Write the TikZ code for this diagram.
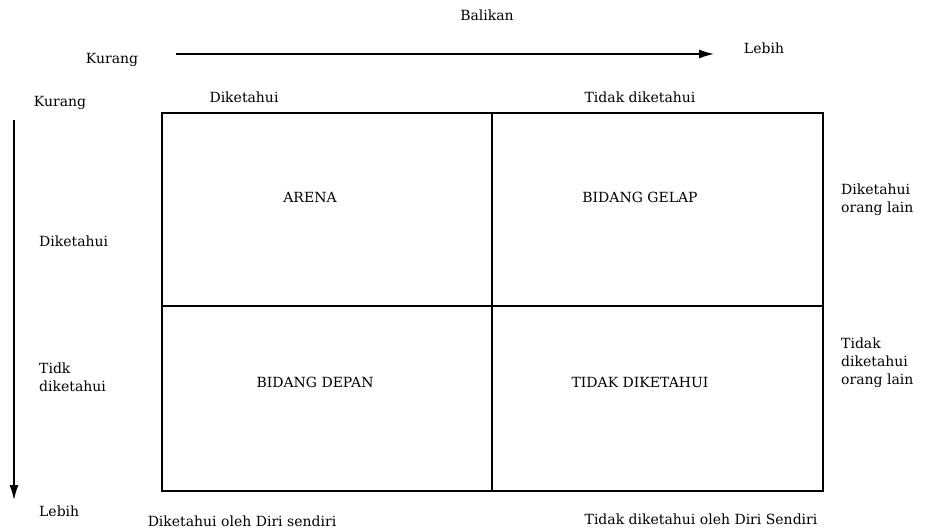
\documentclass[tikz,border=0pt]{standalone}
\usepackage{fontspec}
\setmainfont{DejaVu Serif}
\usetikzlibrary{arrows.meta}

\tikzset{
  lbl/.style={inner sep=0pt, font=\fontsize{14}{18}\selectfont},
  llbl/.style={lbl, anchor=west, align=left},
  axis/.style={line width=1.3pt, -{Latex[length=15pt,width=9pt]}},
  grid/.style={line width=1.5pt}
}

\begin{document}
\begin{tikzpicture}[x=1pt,y=-1pt]
		%%%%% START %%%%%
		\useasboundingbox (0,0) rectangle (928,532);
		
		% balikan axis
		\node[lbl] (balikan) at (487,15) {Balikan};
		\node[lbl] (kurangA) at (112,60) {Kurang};
		\node[lbl] (lebihA) at (764,48) {Lebih};
		\coordinate (hstart) at (176,54);
		\coordinate (hend) at (714,54);
		\draw[axis] (hstart) -- (hend);
		
		% vertical axis
		\node[lbl] (kurangB) at (60,103) {Kurang};
		\coordinate (vstart) at (14,120);
		\coordinate (vend) at (14,500);
		\draw[axis] (vstart) -- (vend);
		\node[llbl] (dikB) at (39,241) {Diketahui};
		\node[llbl] (tidkB) at (39,377) {Tidk\\diketahui};
		\node[llbl] (lebihB) at (39,511) {Lebih};
		
		% window
		\coordinate (nw) at (162,113);
		\coordinate (se) at (823,491);
		\draw[grid] (nw) rectangle (se);
		\draw[grid] (492,113) -- (492,491);
		\draw[grid] (162,306) -- (823,306);
		
		\node[lbl] (dikC) at (244,97) {Diketahui};
		\node[lbl] (tdkC) at (640,97) {Tidak diketahui};
		
		\node[lbl] (arena) at (310,197) {ARENA};
		\node[lbl] (gelap) at (640,197) {BIDANG GELAP};
		\node[lbl] (depan) at (315,382) {BIDANG DEPAN};
		\node[lbl] (tdk) at (640,382) {TIDAK DIKETAHUI};
		
		\node[llbl] (orgA) at (841,200) {Diketahui\\orang lain};
		\node[llbl] (orgB) at (841,363) {Tidak\\diketahui\\orang lain};
		
		\node[lbl] (diriA) at (242,521) {Diketahui oleh Diri sendiri};
		\node[lbl] (diriB) at (701,519) {Tidak diketahui oleh Diri Sendiri};
		%%%%% END %%%%%
\end{tikzpicture}
\end{document}
